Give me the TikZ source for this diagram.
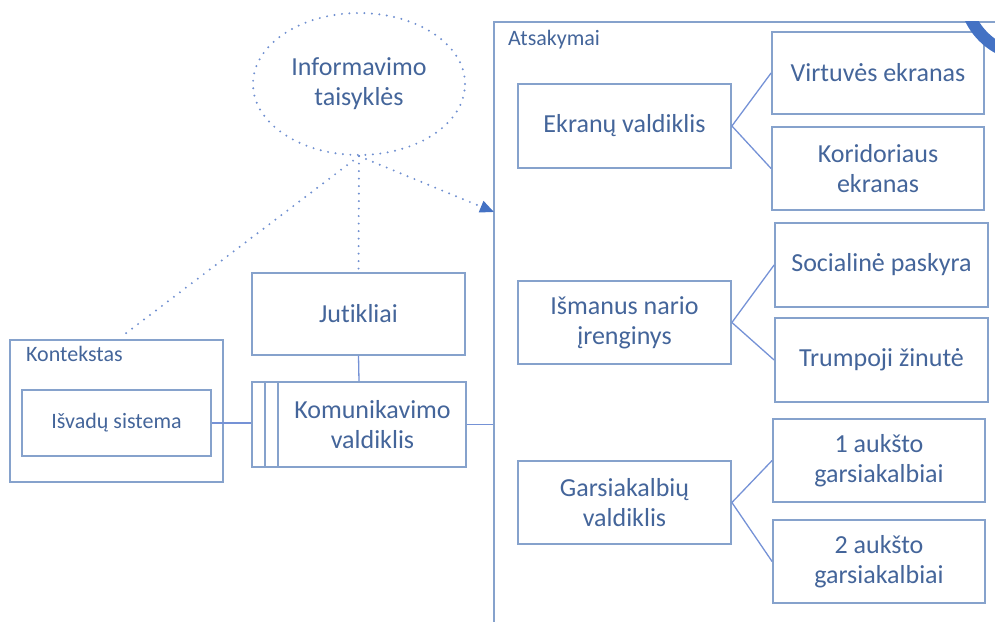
\documentclass[tikz,border=0pt]{standalone}
\usepackage{fontspec}
\setmainfont{Carlito}[Ligatures=NoCommon]
\usetikzlibrary{shapes.geometric,arrows.meta,calc}
\definecolor{boxcol}{HTML}{86A2CC}
\definecolor{textcol}{HTML}{44659A}
\definecolor{linecol}{HTML}{7592D6}
\definecolor{dotcol}{HTML}{6F8FD0}
\definecolor{accent}{HTML}{4472C4}
\begin{document}
\begin{tikzpicture}[x=1pt,y=-1pt,
  bx/.style={draw=boxcol, line width=1.8pt, text=textcol, align=center,
    inner sep=0pt, font=\fontsize{26}{30}\selectfont},
  smallbx/.style={bx, font=\fontsize{22}{26}\selectfont},
  lbl/.style={text=textcol, inner sep=0pt, anchor=base west,
    font=\fontsize{22}{26}\selectfont},
  txt/.style={text=textcol, align=center, inner sep=0pt,
    font=\fontsize{26}{30}\selectfont},
  link/.style={draw=linecol, line width=1.3pt},
  dotlink/.style={draw=dotcol, line width=2.2pt, line cap=round,
    dash pattern=on 0pt off 7.5pt},
]
\useasboundingbox (0,0) rectangle (995,621);
\clip (0,0) rectangle (995,621);

% rule source
\node[ellipse, dotlink, minimum width=212pt, minimum height=142pt, inner sep=0pt,
  txt] (inf) at (359,84) {Informavimo\\taisyklės};

% left side: context and communication
\node[bx, minimum width=213pt, minimum height=82pt] (jut) at (358.5,314) {Jutikliai};
\node[bx, minimum width=214pt, minimum height=85pt] (kom) at (359,424.5) {};
\node[txt] (komtxt) at ([xshift=13.5pt]kom.center) {Komunikavimo\\valdiklis};
\draw[draw=boxcol, line width=1.8pt]
  ([xshift=14pt]kom.north west) -- ([xshift=14pt]kom.south west)
  ([xshift=27pt]kom.north west) -- ([xshift=27pt]kom.south west);

\node[bx, minimum width=213pt, minimum height=142pt] (ctx) at (116.5,411) {};
\node[lbl] (ctxlbl) at (26,361) {Kontekstas};
\node[smallbx, minimum width=189pt, minimum height=66pt] (isv) at (116.5,423) {Išvadų sistema};

% response group
\node[bx, minimum width=546pt, minimum height=638pt] (ats) at (767,341) {};
\node[lbl] (atslbl) at (508,45) {Atsakymai};

\node[bx, minimum width=213pt, minimum height=84pt] (ekr) at (624.5,126) {Ekranų valdiklis};
\node[bx, minimum width=212pt, minimum height=82pt] (vir) at (878,73) {Virtuvės ekranas};
\node[bx, minimum width=212pt, minimum height=83pt] (kor) at (878,168.5) {Koridoriaus\\ekranas};

\node[bx, minimum width=213pt, minimum height=83pt] (ism) at (624.5,322.5) {Išmanus nario\\įrenginys};
\node[bx, minimum width=213pt, minimum height=84pt] (soc) at (881.5,265) {Socialinė paskyra};
\node[bx, minimum width=213pt, minimum height=84pt] (tru) at (881.5,360) {Trumpoji žinutė};

\node[bx, minimum width=213pt, minimum height=83pt] (gar) at (624.5,502.5) {Garsiakalbių\\valdiklis};
\node[bx, minimum width=212pt, minimum height=83pt] (a1) at (879,460.5) {1 aukšto\\garsiakalbiai};
\node[bx, minimum width=212pt, minimum height=83pt] (a2) at (879,561.5) {2 aukšto\\garsiakalbiai};

% solid connectors
\draw[link] (jut.south) -- (kom.north);
\draw[link] (isv.east) -- (isv.east -| kom.west);
\draw[link] (kom.east) -- (kom.east -| ats.west);
\draw[link] (ekr.east) -- (vir.west);
\draw[link] (ekr.east) -- (kor.west);
\draw[link] (ism.east) -- (soc.west);
\draw[link] (ism.east) -- (tru.west);
\draw[link] (gar.east) -- (a1.west);
\draw[link] (gar.east) -- (a2.west);

% dotted rule links
\coordinate (ctxend) at (125,334);
\coordinate (atsend) at (494,212);
\draw[dotlink] (inf.south) -- (jut.north);
\draw[dotlink] (inf.south) -- (ctxend);
\draw[dotlink, -{Triangle[length=14pt,width=12pt,color=accent,fill=accent]}]
  (inf.south) -- (atsend);

% busy ring in the corner
\begin{scope}
  \clip (494,21) rectangle (995,621);
  \draw[accent, line width=12pt] (1030,-10) circle (66);
\end{scope}
\end{tikzpicture}
\end{document}
